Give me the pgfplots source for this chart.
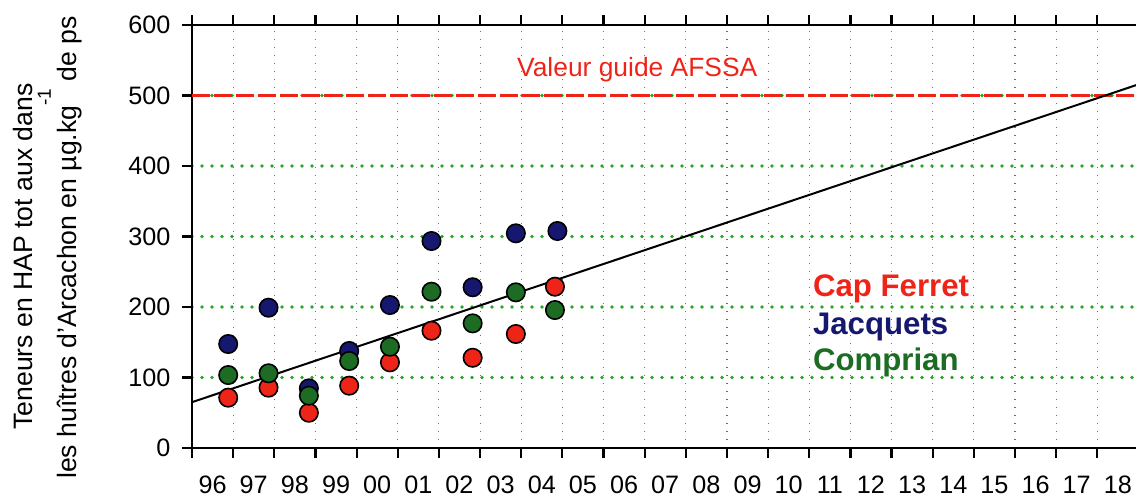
\documentclass[border=0pt]{standalone}
\usepackage{pgfplots}
\pgfplotsset{compat=1.18}
\usepackage{fontspec}
\setmainfont{Liberation Sans}
\definecolor{capred}{RGB}{238,36,24}
\definecolor{jacblue}{RGB}{22,24,112}
\definecolor{comgreen}{RGB}{28,108,36}
\definecolor{gridgreen}{RGB}{40,165,40}
\definecolor{gridgray}{RGB}{110,110,110}
\begin{document}
\begin{tikzpicture}
\begin{axis}[
  at={(0,0)}, anchor=south west,
  scale only axis, width=475pt, height=211.5pt,
  xmin=0, xmax=23.086, ymin=0, ymax=600,
  axis line style={line width=1.1pt},
  tick align=outside,
  xtick={0,1,...,22}, xticklabels={},
  major tick length=4.8pt,
  ytick={0,100,...,600},
  extra x ticks={0.5,1.5,...,22.5},
  extra x tick labels={96,97,98,99,00,01,02,03,04,05,06,07,08,09,10,11,12,13,14,15,16,17,18},
  extra x tick style={major tick length=0pt, grid=none, xticklabel style={yshift=-10.5pt}},
  minor ytick={100,200,300,400,500},
  minor tick length=0pt,
  xmajorgrids=true, ymajorgrids=false, yminorgrids=true,
  major grid style={gridgray, line width=0.55pt, dash pattern=on 0.55pt off 3.45pt},
  minor grid style={gridgreen, line width=1.8pt, line cap=round, dash pattern=on 0pt off 5pt},
  tick style={black, line width=1.1pt},
  tick label style={font=\fontsize{12.6}{14}\selectfont},
  yticklabel style={xshift=-2.5pt},
  /pgf/number format/assume math mode=true,
  clip=false,
]
% guide value line
\addplot[capred, line width=1.1pt, dash pattern=on 9pt off 2pt] coordinates {(0,500) (23.086,500)};
% series
\addplot[only marks, mark=*, mark size=4.6pt, mark options={fill=jacblue, draw=black, line width=0.8pt}] coordinates {
(0.88,147.5) (1.86,199) (2.84,84.6) (3.82,137.6) (4.81,202.8) (5.82,293.6) (6.82,228) (7.87,304.5) (8.88,307.8)};
\addplot[only marks, mark=*, mark size=4.6pt, mark options={fill=capred, draw=black, line width=0.8pt}] coordinates {
(0.88,71.4) (1.86,85.6) (2.84,50) (3.82,88.4) (4.81,121.5) (5.82,166.4) (6.82,128) (7.87,161.7) (8.82,228.8)};
\addplot[only marks, mark=*, mark size=4.6pt, mark options={fill=comgreen, draw=black, line width=0.8pt}] coordinates {
(0.88,103.5) (1.86,106) (2.84,74.2) (3.82,123.4) (4.81,143.7) (5.82,221.7) (6.82,176.8) (7.87,220.8) (8.82,195.7)};
% trend line
\addplot[black, line width=1pt] coordinates {(0,65) (23.086,517.5)};
\node[anchor=base west, text=capred, font=\fontsize{13.2}{15}\selectfont] at (axis cs:7.73,527) {Valeur guide AFSSA};
\node[anchor=base west, text=capred, font=\fontsize{15.6}{18}\selectfont\bfseries] at (axis cs:14.92,214.6) {Cap Ferret};
\node[anchor=base west, text=jacblue, font=\fontsize{15.6}{18}\selectfont\bfseries] at (axis cs:14.92,161.7) {Jacquets};
\node[anchor=base west, text=comgreen, font=\fontsize{15.6}{18}\selectfont\bfseries] at (axis cs:14.92,110.6) {Comprian};
\end{axis}
\node[rotate=90, anchor=base, font=\fontsize{13.3}{15}\selectfont] at (-79.5pt,95.75pt) {Teneurs en HAP tot aux dans};
\node[rotate=90, anchor=base, font=\fontsize{13.3}{15}\selectfont] at (-57.5pt,100.25pt) {les huîtres d'Arcachon en µg.kg\raisebox{13pt}{\fontsize{9.5}{11}\selectfont -1} de ps};
\pgfresetboundingbox
\path[use as bounding box] (-96pt,-25pt) rectangle (472pt,224pt);
\end{tikzpicture}
\end{document}
